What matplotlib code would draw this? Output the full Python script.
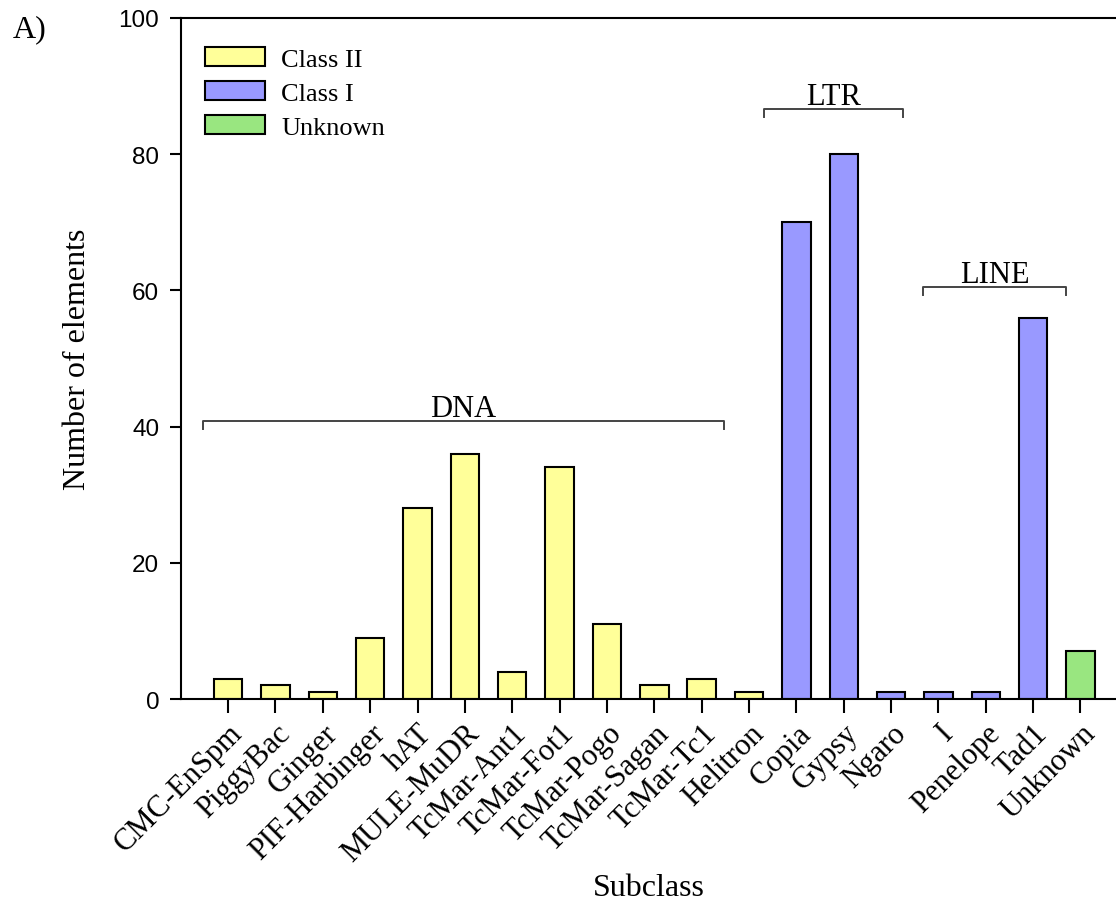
import matplotlib.pyplot as plt
from matplotlib.patches import Patch

subclasses = ["CMC-EnSpm", "PiggyBac", "Ginger", "PIF-Harbinger", "hAT", "MULE-MuDR",
              "TcMar-Ant1", "TcMar-Fot1", "TcMar-Pogo", "TcMar-Sagan", "TcMar-Tc1",
              "Helitron", "Copia", "Gypsy", "Ngaro", "I", "Penelope", "Tad1", "Unknown"]
counts = [3, 2, 1, 9, 28, 36, 4, 34, 11, 2, 3, 1, 70, 80, 1, 1, 1, 56, 7]
classes = ["Class II"] * 12 + ["Class I"] * 6 + ["Unknown"]

class_colors = {"Class II": "#FFFF99", "Class I": "#9999FF", "Unknown": "#99E680"}

# (label, left end, right end, bracket height) in bar-index units
groups = [("DNA", -0.53, 10.47, 40.8), ("LTR", 11.31, 14.25, 86.6), ("LINE", 14.67, 17.7, 60.5)]

serif = "Liberation Serif"
sans = "Liberation Sans"

fig = plt.figure(figsize=(11.16, 9.03), dpi=100)
ax = fig.add_axes([0.162, 0.2248, 0.838, 0.7542])

x = list(range(len(subclasses)))
ax.bar(x, counts, width=0.6, color=[class_colors[c] for c in classes],
       edgecolor="black", linewidth=1.5)

ax.set_xlim(-1, 18.75)
ax.set_ylim(0, 100)
ax.set_yticks(range(0, 101, 20))
ax.set_xticks(x)
ax.set_xticklabels(subclasses, rotation=45, ha="right", rotation_mode="anchor",
                   family=serif, fontsize=22)
for lbl in ax.get_yticklabels():
    lbl.set_family(sans)
    lbl.set_fontsize(17.5)

ax.spines["right"].set_visible(False)
ax.spines["left"].set_linewidth(1.5)
ax.spines["bottom"].set_linewidth(1.5)
ax.spines["top"].set_linewidth(1.5)
ax.tick_params(axis="y", direction="out", length=8, width=1.5, pad=7.5)
ax.tick_params(axis="x", direction="out", length=10, width=1.5, pad=4)

ax.set_xlabel("Subclass", family=serif, fontsize=23, labelpad=4)
ax.set_ylabel("Number of elements", family=serif, fontsize=23, labelpad=19)

# group brackets above the bars
for name, x0, x1, h in groups:
    ax.plot([x0, x0, x1, x1], [h - 1.2, h, h, h - 1.2], color="#444444", lw=1.4)
    ax.text((x0 + x1) / 2, h + 0.8, name, ha="center", va="baseline",
            family=serif, fontsize=22)

handles = [Patch(facecolor=class_colors[c], edgecolor="black", linewidth=1.5, label=c)
           for c in ["Class II", "Class I", "Unknown"]]
ax.legend(handles=handles, loc="upper left", bbox_to_anchor=(0.0, 0.992),
          frameon=False, prop={"family": serif, "size": 19},
          handlelength=2.3, handleheight=0.75, handletextpad=0.6, labelspacing=0.38)

fig.text(0.011, 0.967, "A)", family=serif, fontsize=23, ha="left", va="center")

fig.savefig("out.png", dpi=100)
